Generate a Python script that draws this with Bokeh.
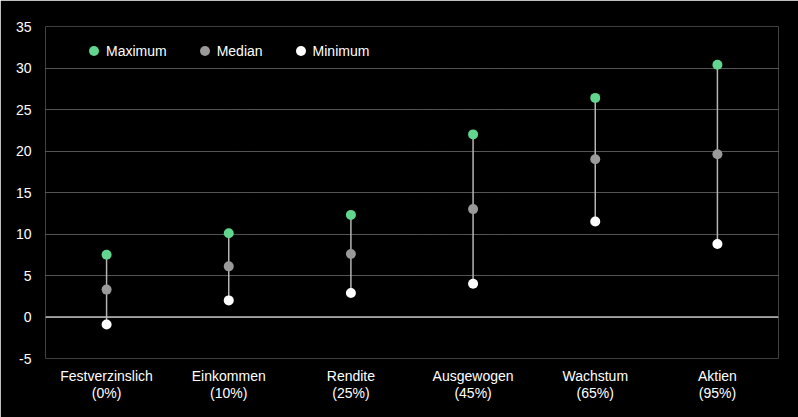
from bokeh.plotting import figure
from bokeh.models import Range1d, FactorRange, Span, ColumnDataSource, FixedTicker, Legend, LegendItem
from bokeh.embed import file_html
from bokeh.resources import INLINE

categories = ["Festverzinslich", "Einkommen", "Rendite", "Ausgewogen", "Wachstum", "Aktien"]
shares = ["0%", "10%", "25%", "45%", "65%", "95%"]
maximum = [7.5, 10.1, 12.3, 22.0, 26.4, 30.4]
median = [3.3, 6.1, 7.6, 13.0, 19.0, 19.6]
minimum = [-0.9, 2.0, 2.9, 4.0, 11.5, 8.8]
y_ticks = [-5, 0, 5, 10, 15, 20, 25, 30, 35]

factors = [f"{c}\n({s})" for c, s in zip(categories, shares)]
src = ColumnDataSource(dict(x=factors, mx=maximum, md=median, mn=minimum))

FONT = "Liberation Sans"

p = figure(x_range=FactorRange(*factors, range_padding=0), y_range=Range1d(-5, 35),
           frame_width=733, frame_height=332,
           min_border_left=45, min_border_right=20, min_border_top=26, min_border_bottom=59,
           output_backend="svg", toolbar_location=None,
           background_fill_color="black", border_fill_color="black", outline_line_color=None)

p.segment(x0="x", y0="mn", x1="x", y1="mx", source=src, line_color="#b4b4b4", line_width=1.5)
r_max = p.scatter(x="x", y="mx", source=src, size=10, fill_color="#62d68e", line_color=None)
r_med = p.scatter(x="x", y="md", source=src, size=10, fill_color="#9a9a9a", line_color=None)
r_min = p.scatter(x="x", y="mn", source=src, size=10, fill_color="#ffffff", line_color=None)

p.add_layout(Span(location=0, dimension="width", line_color="#bdbdbd", line_width=1.5))

p.xgrid.grid_line_color = None
p.ygrid.grid_line_color = "#a8a8a8"
p.ygrid.grid_line_dash = "1 1"
p.ygrid.grid_line_width = 1

p.yaxis.ticker = FixedTicker(ticks=y_ticks)
p.yaxis.major_label_overrides = {t: str(t) for t in y_ticks}
for ax in (p.xaxis[0], p.yaxis[0]):
    ax.axis_line_color = None
    ax.major_tick_line_color = None
    ax.minor_tick_line_color = None
    ax.major_label_text_color = "white"
    ax.major_label_text_font = FONT
    ax.major_label_text_font_size = "14px"
p.yaxis.major_label_standoff = 8
p.xaxis.major_label_standoff = 3
p.xaxis.major_label_text_line_height = 1.1

legend = Legend(items=[LegendItem(label="Maximum", renderers=[r_max]),
                       LegendItem(label="Median", renderers=[r_med]),
                       LegendItem(label="Minimum", renderers=[r_min])],
                orientation="horizontal", location=(36, 295),
                background_fill_alpha=0, border_line_color=None,
                padding=0, margin=0, spacing=25, glyph_width=25, glyph_height=25,
                label_height=25, label_standoff=-6,
                label_text_color="white", label_text_font=FONT, label_text_font_size="14px")
p.add_layout(legend)

open("out.html", "w").write(file_html(p, INLINE))
